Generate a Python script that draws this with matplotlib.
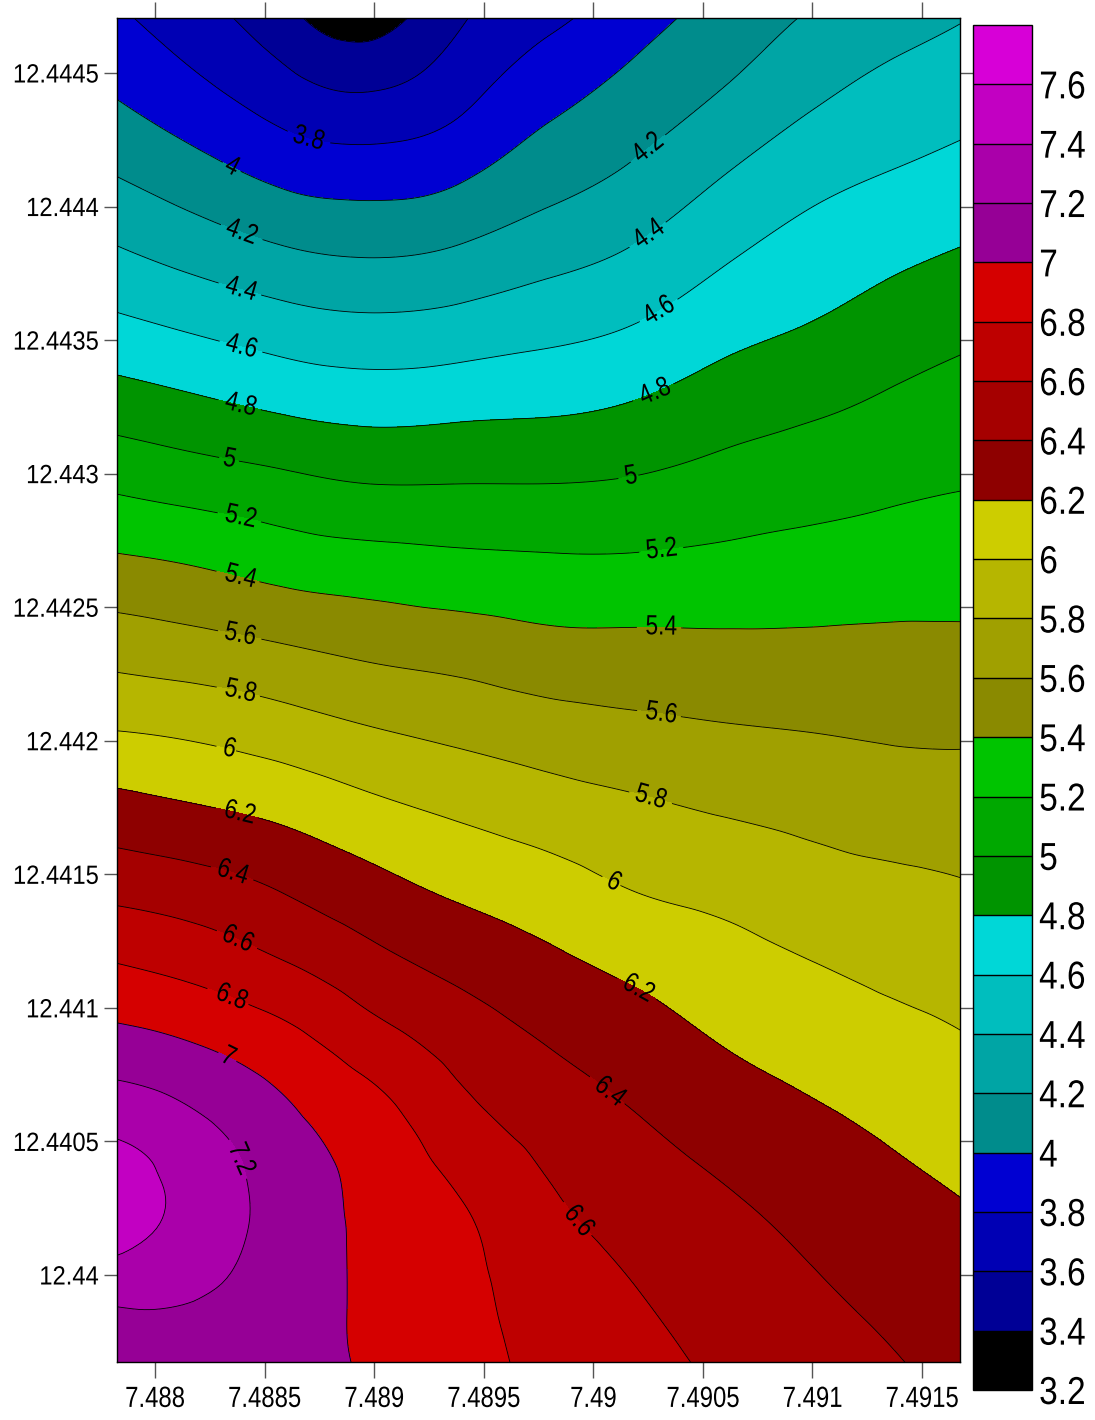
import numpy as np
import matplotlib
matplotlib.use("Agg")
import matplotlib.pyplot as plt
import matplotlib.tri as mtri
from matplotlib import patheffects
from matplotlib.transforms import Affine2D
from matplotlib.ticker import FuncFormatter

plt.rcParams['font.family'] = ['Liberation Sans', 'DejaVu Sans']

# ======================================================
# Gridded readings, rows bottom -> top
# ======================================================
lon = [7.4878, 7.4882, 7.4886, 7.4890, 7.4894, 7.4898,
       7.4902, 7.4906, 7.4910, 7.4914, 7.4918]
lat = [12.43965, 12.43995, 12.44025, 12.44055, 12.44085, 12.44115,
       12.44145, 12.44175, 12.44205, 12.44235, 12.44265, 12.44295,
       12.44325, 12.44355, 12.44385, 12.44415, 12.44445, 12.44475]

z_rows = [
    [7.10, 7.08, 7.05, 6.98, 6.86, 6.76, 6.66, 6.57, 6.49, 6.41, 6.32],
    [7.26, 7.22, 7.10, 6.96, 6.85, 6.71, 6.60, 6.51, 6.42, 6.34, 6.26],
    [7.54, 7.33, 7.11, 6.95, 6.81, 6.63, 6.52, 6.43, 6.34, 6.26, 6.19],
    [7.37, 7.24, 7.05, 6.89, 6.68, 6.53, 6.42, 6.32, 6.24, 6.17, 6.10],
    [7.09, 7.01, 6.88, 6.70, 6.53, 6.40, 6.30, 6.20, 6.13, 6.07, 6.00],
    [6.82, 6.74, 6.62, 6.47, 6.35, 6.25, 6.16, 6.08, 6.01, 5.95, 5.90],
    [6.54, 6.48, 6.38, 6.26, 6.16, 6.08, 5.99, 5.94, 5.88, 5.84, 5.80],
    [6.27, 6.21, 6.14, 6.04, 5.96, 5.89, 5.83, 5.78, 5.74, 5.70, 5.69],
    [5.99, 5.95, 5.88, 5.80, 5.74, 5.68, 5.64, 5.61, 5.59, 5.57, 5.57],
    [5.72, 5.67, 5.61, 5.55, 5.51, 5.46, 5.45, 5.44, 5.44, 5.44, 5.44],
    [5.45, 5.40, 5.33, 5.29, 5.26, 5.24, 5.24, 5.26, 5.28, 5.31, 5.32],
    [5.18, 5.12, 5.06, 5.01, 5.01, 5.01, 5.03, 5.08, 5.13, 5.17, 5.20],
    [4.91, 4.84, 4.77, 4.73, 4.75, 4.77, 4.82, 4.91, 4.97, 5.04, 5.10],
    [4.65, 4.57, 4.49, 4.45, 4.48, 4.54, 4.61, 4.73, 4.81, 4.90, 4.97],
    [4.41, 4.30, 4.20, 4.16, 4.21, 4.31, 4.41, 4.56, 4.67, 4.75, 4.82],
    [4.18, 4.05, 3.92, 3.88, 3.95, 4.10, 4.22, 4.38, 4.52, 4.60, 4.67],
    [3.98, 3.83, 3.66, 3.58, 3.73, 3.92, 4.06, 4.20, 4.35, 4.46, 4.53],
    [3.82, 3.65, 3.42, 3.27, 3.56, 3.73, 3.90, 4.06, 4.20, 4.30, 4.40],
]

levels = [3.2, 3.4, 3.6, 3.8, 4.0, 4.2, 4.4, 4.6, 4.8, 5.0, 5.2, 5.4,
          5.6, 5.8, 6.0, 6.2, 6.4, 6.6, 6.8, 7.0, 7.2, 7.4, 7.6, 7.8]
band_colors = ['#000000', '#000096', '#0000B4', '#0000D2',
               '#008C8C', '#00A5A5', '#00BEBE', '#00D7D7',
               '#009400', '#00A800', '#00C400',
               '#8A8A00', '#A0A000', '#B6B600', '#CDCD00',
               '#8E0000', '#A50000', '#BE0000', '#D50000',
               '#960096', '#AA00AA', '#C200C2', '#D700D7']

x_ticks = [7.488, 7.4885, 7.489, 7.4895, 7.49, 7.4905, 7.491, 7.4915]
y_ticks = [12.44, 12.4405, 12.441, 12.4415, 12.442, 12.4425,
           12.443, 12.4435, 12.444, 12.4445]

# label anchor points (data coords)
label_spots = [
    (7.48870, 12.44425), (7.48834, 12.44413), (7.48839, 12.44389),
    (7.48839, 12.44368), (7.48839, 12.44346), (7.48839, 12.44325),
    (7.48834, 12.44305), (7.48839, 12.44283), (7.48839, 12.44261),
    (7.48839, 12.44240), (7.48839, 12.44218), (7.48834, 12.44197),
    (7.48839, 12.44174), (7.48836, 12.44152), (7.48839, 12.44128),
    (7.48836, 12.44106), (7.48833, 12.44081), (7.48832, 12.44041),
    (7.49026, 12.44421), (7.49026, 12.44389), (7.49030, 12.44361),
    (7.49028, 12.44331), (7.49017, 12.44300), (7.49031, 12.44273),
    (7.49031, 12.44242), (7.49031, 12.44210), (7.49026, 12.44178),
    (7.49010, 12.44148), (7.49019, 12.44105), (7.49006, 12.44067),
    (7.48993, 12.44020),
]


# squeeze glyphs sideways to mimic a narrow sans face
class Narrow(patheffects.AbstractPathEffect):
    def __init__(self, sx=0.82, anchor='center'):
        super().__init__()
        self.sx = sx
        self.anchor = anchor

    def draw_path(self, renderer, gc, tpath, affine, rgbFace=None):
        ext = tpath.get_extents()
        x0 = {'left': ext.x0, 'right': ext.x1}.get(self.anchor, (ext.x0 + ext.x1) / 2)
        pre = Affine2D().translate(-x0, 0).scale(self.sx, 1).translate(x0, 0)
        renderer.draw_path(gc, tpath, pre + affine, rgbFace)


# ======================================================
# Smooth field through the grid readings
# ======================================================
z = np.array(z_rows)
ny, nx = z.shape
jj, ii = np.meshgrid(np.arange(ny), np.arange(nx), indexing='ij')
tris = []
for r in range(ny - 1):
    for c in range(nx - 1):
        a = r * nx + c
        tris.append([a, a + 1, a + nx + 1])
        tris.append([a, a + nx + 1, a + nx])
tri = mtri.Triangulation(ii.ravel().astype(float), jj.ravel().astype(float), np.array(tris))
interp = mtri.CubicTriInterpolator(tri, z.ravel(), kind='min_E')
refiner = mtri.UniformTriRefiner(tri)
tri_f, z_f = refiner.refine_field(z.ravel(), triinterpolator=interp, subdiv=4)

gx = np.interp(tri_f.x, np.arange(nx), np.array(lon))
gy = np.interp(tri_f.y, np.arange(ny), np.array(lat))
tri_geo = mtri.Triangulation(gx, gy, tri_f.triangles)

fig = plt.figure(figsize=(10.95, 14.2), dpi=100)
ax = fig.add_axes([117 / 1095, 1 - 1362 / 1420, 843 / 1095, 1344 / 1420])

cf = ax.tricontourf(tri_geo, z_f, levels=levels, colors=band_colors, antialiased=False)
cs = ax.tricontour(tri_geo, z_f, levels=levels, colors='black', linewidths=0.6)
clbls = ax.clabel(cs, manual=label_spots, inline=True, fmt='%g', fontsize=20, inline_spacing=2)
for t in clbls:
    t.set_path_effects([Narrow(0.82, 'center')])

ax.set_xlim(7.4878266, 7.4916734)
ax.set_ylim(12.4396743, 12.4447059)
ax.set_xticks(x_ticks)
ax.set_yticks(y_ticks)
fmt = FuncFormatter(lambda v, p: f"{v:g}")
ax.xaxis.set_major_formatter(fmt)
ax.yaxis.set_major_formatter(fmt)
ax.tick_params(direction='out', top=True, right=True, width=1, color='#555555')
ax.tick_params(axis='x', length=11.5, pad=5, labelsize=21)
ax.tick_params(axis='y', length=9.7, pad=3.5, labelsize=19)
for s in ax.spines.values():
    s.set_linewidth(1)
    s.set_color('black')
for t in ax.get_xticklabels():
    t.set_path_effects([Narrow(0.82, 'center')])
for t in ax.get_yticklabels():
    t.set_path_effects([Narrow(0.9, 'right')])

cax = fig.add_axes([973 / 1095, 30 / 1420, 59 / 1095, 1365 / 1420])
cb = fig.colorbar(cf, cax=cax, drawedges=True, ticks=levels[:-1])
cb.ax.yaxis.set_major_formatter(fmt)
cb.ax.tick_params(length=0, labelsize=28, pad=5)
cb.outline.set_linewidth(1)
cb.outline.set_edgecolor('black')
cb.dividers.set_color('black')
cb.dividers.set_linewidth(1)
for t in cb.ax.get_yticklabels():
    t.set_path_effects([Narrow(0.86, 'left')])

fig.savefig("out.png", dpi=100)
